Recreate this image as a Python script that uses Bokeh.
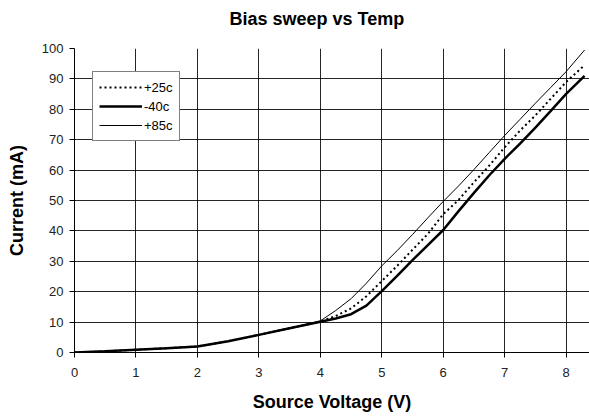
from bokeh.plotting import figure
from bokeh.models import Legend, LegendItem, Range1d, FixedTicker
from bokeh.embed import file_html
from bokeh.resources import INLINE

# ---- data ----
voltage = [0, 0.5, 1, 1.5, 2, 2.5, 3, 3.5, 4, 4.25, 4.5, 4.75, 5, 5.25, 5.5,
           5.75, 6, 6.25, 6.5, 6.75, 7, 7.25, 7.5, 7.75, 8, 8.3]
cur_p25 = [0, 0.4, 0.9, 1.4, 2.0, 3.7, 5.8, 8.0, 10.2, 12.0, 14.5, 18.5, 23.5,
           28.5, 33.8, 39.0, 45.5, 50.2, 56.0, 61.5, 67.5, 73.0, 78.0, 83.5, 89.0, 94.5]
cur_m40 = [0, 0.4, 0.9, 1.4, 2.0, 3.7, 5.8, 8.0, 10.1, 11.2, 12.6, 15.4, 20.2,
           25.2, 30.4, 35.3, 40.3, 46.5, 52.5, 58.3, 63.7, 68.7, 74.0, 79.5, 85.1, 91.0]
cur_p85 = [0, 0.4, 0.9, 1.4, 2.0, 3.7, 5.8, 8.0, 10.4, 13.8, 17.7, 22.8, 28.5,
           33.5, 38.8, 44.3, 49.7, 54.8, 60.2, 65.8, 71.4, 76.7, 82.0, 87.2, 92.4, 99.5]
series_labels = ["+25c", "-40c", "+85c"]
x_ticks = [0, 1, 2, 3, 4, 5, 6, 7, 8]
y_ticks = [0, 10, 20, 30, 40, 50, 60, 70, 80, 90, 100]

FONT = "Liberation Sans"

p = figure(width=589, height=418, output_backend="svg", toolbar_location=None,
           x_range=Range1d(0, 8.38), y_range=Range1d(0, 100),
           min_border_left=74, min_border_right=0, min_border_top=48,
           min_border_bottom=66)
p.outline_line_color = None
p.background_fill_color = "white"
p.border_fill_color = "white"

p.title.text = "Bias sweep vs Temp"
p.title.text_font = FONT
p.title.text_font_size = "18px"
p.title.text_font_style = "bold"
p.title.align = "left"
p.title.offset = 155
p.title.vertical_align = "bottom"
p.title.standoff = 10
p.title.padding = dict(left=0, right=0, top=0, bottom=15)
p.title.text_color = "black"

for ax in (p.xaxis[0], p.yaxis[0]):
    ax.axis_line_color = "black"
    ax.axis_line_width = 1
    ax.major_tick_line_color = "black"
    ax.major_tick_out = 5
    ax.major_tick_in = 0
    ax.minor_tick_line_color = None
    ax.major_label_text_font = FONT
    ax.major_label_text_font_size = "13px"
    ax.major_label_text_color = "#222222"
    ax.axis_label_text_font = FONT
    ax.axis_label_text_font_size = "18px"
    ax.axis_label_text_font_style = "bold"
    ax.axis_label_text_color = "black"

p.xaxis.ticker = FixedTicker(ticks=x_ticks)
p.yaxis.ticker = FixedTicker(ticks=y_ticks)
p.xaxis.axis_label = "Source Voltage (V)"
p.yaxis.axis_label = "Current (mA)"
p.xaxis.major_label_standoff = 10
p.yaxis.major_label_standoff = 6
p.xaxis.axis_label_standoff = 12
p.yaxis.axis_label_standoff = 12

p.xgrid.ticker = FixedTicker(ticks=x_ticks)
p.ygrid.ticker = FixedTicker(ticks=y_ticks)
for g in (p.xgrid[0], p.ygrid[0]):
    g.grid_line_color = "black"
    g.grid_line_width = 1
    g.grid_line_alpha = 0.85

r1 = p.line(voltage, cur_p25, line_color="black", line_width=2, line_dash="2 3")
r2 = p.line(voltage, cur_m40, line_color="black", line_width=2.5)
r3 = p.line(voltage, cur_p85, line_color="black", line_width=1)

legend = Legend(items=[LegendItem(label=series_labels[0], renderers=[r1]),
                       LegendItem(label=series_labels[1], renderers=[r2]),
                       LegendItem(label=series_labels[2], renderers=[r3])],
                location=(18, 211))
legend.label_text_font = FONT
legend.label_text_font_size = "13px"
legend.label_text_color = "black"
legend.glyph_width = 43
legend.glyph_height = 18
legend.label_height = 18
legend.label_standoff = 2
legend.spacing = 1
legend.padding = 6
legend.margin = 0
legend.border_line_color = "black"
legend.border_line_width = 1
legend.background_fill_color = "white"
legend.background_fill_alpha = 1
p.add_layout(legend, "center")

open("out.html", "w").write(file_html(p, INLINE))
